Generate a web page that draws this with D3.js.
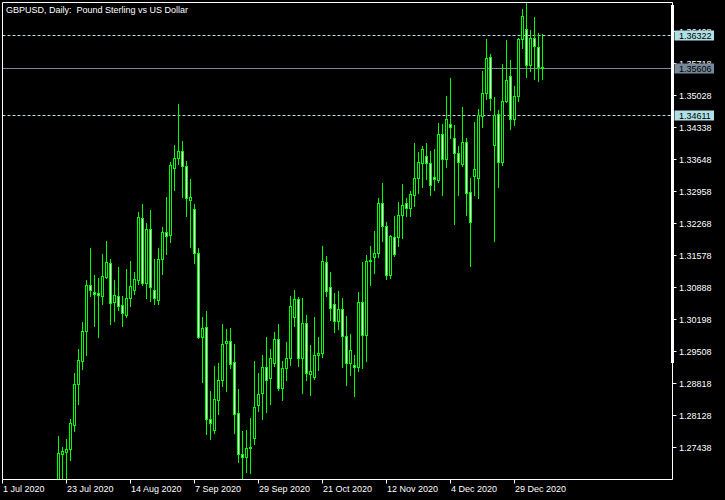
<!DOCTYPE html>
<html><head><meta charset="utf-8">
<script src="https://cdn.jsdelivr.net/npm/d3@7"></script>
<style>html,body{margin:0;padding:0;background:#000;}svg{display:block;}text{white-space:pre;}</style>
</head><body><svg id="c" width="725" height="500"></svg>
<script>
const title = "GBPUSD, Daily:  Pound Sterling vs US Dollar";
const axisStart = "2020-07-01";
const firstBar = "2020-07-21";
const holidays = ["2020-12-25", "2021-01-01"];
const open = [1.2655,1.2729,1.2732,1.2739,1.2790,1.2880,1.2929,1.2993,1.3093,1.3077,1.3076,1.3069,1.3111,1.3141,1.3057,1.3069,1.3050,1.3029,1.3064,1.3082,1.3103,1.3237,1.3098,1.3214,1.3083,1.3060,1.3149,1.3208,1.3201,1.3346,1.3367,1.3383,1.3351,1.3277,1.3258,1.3163,1.2980,1.3003,1.2804,1.2781,1.2844,1.2888,1.2968,1.2973,1.2927,1.2817,1.2729,1.2722,1.2741,1.2763,1.2833,1.2860,1.2916,1.2893,1.2925,1.2977,1.2871,1.2914,1.2936,1.3024,1.3063,1.2935,1.3011,1.2901,1.2895,1.2942,1.2947,1.3143,1.3089,1.3053,1.3015,1.3042,1.2984,1.2925,1.2921,1.2916,1.3057,1.2985,1.3145,1.3153,1.3163,1.3270,1.3220,1.3114,1.3197,1.3197,1.3245,1.3270,1.3260,1.3288,1.3325,1.3357,1.3371,1.3357,1.3327,1.3320,1.3419,1.3365,1.3441,1.3411,1.3378,1.3355,1.3402,1.3293,1.3328,1.3324,1.3458,1.3508,1.3586,1.3396,1.3462,1.3359,1.3490,1.3545,1.3452,1.3501,1.3625,1.3646,1.3568,1.3627,1.3607,1.3564];
const high = [1.2768,1.2744,1.2760,1.2803,1.2903,1.2954,1.3014,1.3103,1.3172,1.3114,1.3109,1.3161,1.3187,1.3150,1.3103,1.3133,1.3069,1.3127,1.3144,1.3122,1.3250,1.3267,1.3226,1.3256,1.3150,1.3172,1.3219,1.3284,1.3358,1.3396,1.3483,1.3403,1.3360,1.3321,1.3269,1.3172,1.3023,1.3036,1.2865,1.2919,1.2925,1.3008,1.2999,1.3001,1.2966,1.2868,1.2778,1.2781,1.2805,1.2930,1.2903,1.2942,1.2980,1.2954,1.2991,1.3008,1.2930,1.2971,1.3069,1.3083,1.3068,1.3066,1.3029,1.2963,1.3025,1.2980,1.3178,1.3155,1.3122,1.3075,1.3081,1.3064,1.3027,1.2988,1.2943,1.3079,1.3142,1.3157,1.3178,1.3209,1.3280,1.3314,1.3230,1.3200,1.3243,1.3273,1.3312,1.3280,1.3297,1.3399,1.3381,1.3394,1.3399,1.3383,1.3386,1.3443,1.3441,1.3502,1.3540,1.3439,1.3394,1.3478,1.3411,1.3324,1.3445,1.3472,1.3556,1.3625,1.3591,1.3499,1.3470,1.3571,1.3621,1.3578,1.3522,1.3627,1.3688,1.3704,1.3643,1.3672,1.3637,1.3636];
const low = [1.2640,1.2665,1.2660,1.2716,1.2778,1.2837,1.2911,1.2943,1.3069,1.3004,1.2980,1.3053,1.3109,1.3008,1.3016,1.3040,1.3004,1.3024,1.3047,1.3074,1.3096,1.3093,1.3064,1.3058,1.3053,1.3053,1.3116,1.3159,1.3186,1.3299,1.3355,1.3283,1.3242,1.3175,1.3140,1.2978,1.2883,1.2771,1.2760,1.2773,1.2814,1.2875,1.2864,1.2914,1.2774,1.2711,1.2670,1.2689,1.2688,1.2750,1.2821,1.2804,1.2819,1.2837,1.2919,1.2866,1.2844,1.2889,1.2920,1.3004,1.2919,1.2860,1.2889,1.2855,1.2891,1.2909,1.2937,1.3069,1.3017,1.2991,1.2999,1.2916,1.2878,1.2898,1.2853,1.2907,1.2914,1.2929,1.3093,1.3119,1.3153,1.3189,1.3106,1.3108,1.3155,1.3178,1.3194,1.3243,1.3243,1.3263,1.3292,1.3305,1.3321,1.3287,1.3299,1.3315,1.3287,1.3347,1.3410,1.3225,1.3288,1.3350,1.3245,1.3135,1.3288,1.3280,1.3435,1.3495,1.3471,1.3188,1.3305,1.3352,1.3488,1.3429,1.3438,1.3490,1.3605,1.3542,1.3555,1.3537,1.3533,1.3537];
const close = [1.2731,1.2734,1.2739,1.2796,1.2880,1.2932,1.2994,1.3093,1.3082,1.3074,1.3071,1.3113,1.3143,1.3055,1.3072,1.3047,1.3032,1.3065,1.3092,1.3105,1.3239,1.3098,1.3213,1.3089,1.3064,1.3150,1.3208,1.3199,1.3353,1.3368,1.3383,1.3350,1.3281,1.3282,1.3162,1.2980,1.3001,1.2804,1.2796,1.2846,1.2889,1.2966,1.2973,1.2923,1.2815,1.2729,1.2722,1.2742,1.2743,1.2830,1.2858,1.2916,1.2887,1.2936,1.2977,1.2871,1.2914,1.2936,1.3047,1.3063,1.2935,1.3011,1.2903,1.2908,1.2942,1.2947,1.3145,1.3080,1.3043,1.3015,1.3042,1.2983,1.2925,1.2952,1.2916,1.3057,1.2985,1.3145,1.3148,1.3163,1.3270,1.3220,1.3114,1.3199,1.3160,1.3245,1.3266,1.3260,1.3290,1.3325,1.3359,1.3387,1.3357,1.3309,1.3321,1.3419,1.3365,1.3452,1.3435,1.3378,1.3359,1.3402,1.3292,1.3229,1.3344,1.3459,1.3508,1.3583,1.3497,1.3460,1.3359,1.3491,1.3535,1.3452,1.3501,1.3625,1.3674,1.3568,1.3627,1.3609,1.3563,1.35606];
const priceTicks = [1.27438,1.28128,1.28818,1.29508,1.30198,1.30888,1.31578,1.32268,1.32958,1.33648,1.34338,1.35028,1.35718,1.36408];
const dateTickLabels = ["1 Jul 2020","23 Jul 2020","14 Aug 2020","7 Sep 2020","29 Sep 2020","21 Oct 2020","12 Nov 2020","4 Dec 2020","29 Dec 2020"];
const dateTickDays = ["2020-07-01","2020-07-23","2020-08-14","2020-09-07","2020-09-29","2020-10-21","2020-11-12","2020-12-04","2020-12-29"];
const levelLines = [1.36322, 1.34611];
const bidPrice = 1.35606;
const priceMin = 1.26743, priceMax = 1.37040;

const fmt = d3.utcFormat("%Y-%m-%d");
const parse = d3.utcParse("%Y-%m-%d");
// trading-day calendar (weekdays minus holidays)
const days = [];
let d = parse(axisStart);
while (days.length < 400) {
  const wd = d.getUTCDay();
  const s = fmt(d);
  if (wd !== 0 && wd !== 6 && !holidays.includes(s)) days.push(s);
  if (days.indexOf(firstBar) >= 0 && days.length >= days.indexOf(firstBar) + close.length) break;
  d = d3.utcDay.offset(d, 1);
}
const fi = days.indexOf(firstBar);
const bars = close.map((c, k) => ({day: days[fi + k], o: open[k], h: high[k], l: low[k], c}));

const L = 2.5, R = 672.5, T = 2.5, B = 479.5;
const x = d3.scalePoint().domain(days).range([2.5, 2.5 + 4 * (days.length - 1)]);
const y = d3.scaleLinear().domain([priceMin, priceMax]).range([B, T]);
const sy = v => Math.round(y(v) - 0.5) + 0.5;

const svg = d3.select("#c");
svg.append("rect").attr("width", 725).attr("height", 500).attr("fill", "#000");
const font = "'Liberation Sans', Arial, sans-serif";

svg.append("defs").append("clipPath").attr("id", "pc")
  .append("rect").attr("x", L + 0.5).attr("y", T + 0.5).attr("width", R - L - 1).attr("height", B - T - 1);

const plot = svg.append("g").attr("clip-path", "url(#pc)");

// level lines
levelLines.forEach(v => {
  plot.append("line").attr("x1", L).attr("x2", R).attr("y1", sy(v)).attr("y2", sy(v))
    .attr("stroke", "#b0e0e6").attr("stroke-dasharray", "3,2");
});
plot.append("line").attr("x1", L).attr("x2", R).attr("y1", sy(bidPrice)).attr("y2", sy(bidPrice))
  .attr("stroke", "#778899");

// candles
const g = plot.selectAll("g.bar").data(bars).join("g");
g.append("line")
  .attr("x1", b => x(b.day)).attr("x2", b => x(b.day))
  .attr("y1", b => sy(b.h) - 0.5).attr("y2", b => sy(b.l) + 0.5)
  .attr("stroke", "#00ff00");
g.append("rect")
  .attr("x", b => x(b.day) - 1)
  .attr("y", b => Math.min(sy(b.o), sy(b.c)))
  .attr("width", 2)
  .attr("height", b => Math.abs(sy(b.o) - sy(b.c)))
  .attr("fill", b => b.c >= b.o ? "#000" : "#fff")
  .attr("stroke", "#00ff00");

// frame
const frame = svg.append("g").attr("stroke", "#fff").attr("fill", "none");
frame.append("path").attr("d", `M${L},${T}H${R}V${B}H${L}Z`);
svg.append("rect").attr("x", 671).attr("y", 5).attr("width", 3).attr("height", 358).attr("fill", "#fff");

// price axis
priceTicks.forEach(v => {
  const yy = sy(v);
  svg.append("line").attr("x1", R).attr("x2", R + 4).attr("y1", yy).attr("y2", yy).attr("stroke", "#fff");
  svg.append("text").attr("x", 679).attr("y", yy + 3.5).attr("fill", "#fff")
    .attr("font-family", font).attr("font-size", "9px").text(d3.format(".5f")(v));
});

// price labels for lines
function priceBox(v, bg) {
  const yy = sy(v);
  svg.append("rect").attr("x", 674.5).attr("y", yy - 5).attr("width", 39.5).attr("height", 10).attr("fill", bg);
  svg.append("text").attr("x", 679).attr("y", yy + 3.5).attr("fill", "#000")
    .attr("font-family", font).attr("font-size", "9px").text(d3.format(".5f")(v));
}
levelLines.forEach(v => priceBox(v, "#b0e0e6"));
priceBox(bidPrice, "#778899");

// time axis
dateTickDays.forEach((s, k) => {
  const xx = x(s);
  svg.append("line").attr("x1", xx).attr("x2", xx).attr("y1", B).attr("y2", B + 4).attr("stroke", "#fff");
  svg.append("text").attr("x", xx + 0.5).attr("y", 492).attr("fill", "#fff")
    .attr("font-family", font).attr("font-size", "9px").text(dateTickLabels[k]);
});

// title
svg.append("text").attr("x", 6).attr("y", 13).attr("fill", "#fff")
  .attr("font-family", font).attr("font-size", "9px").attr("xml:space", "preserve").text(title);
</script></body></html>
